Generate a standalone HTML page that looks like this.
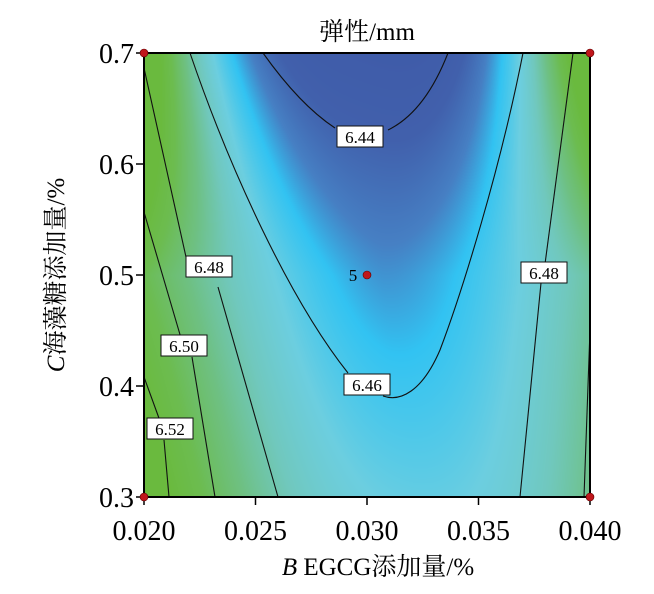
<!DOCTYPE html>
<html><head><meta charset="utf-8"><style>
body{margin:0;background:#fff;width:654px;height:594px;overflow:hidden;position:relative;font-family:"Liberation Serif","Noto Serif CJK SC",serif}
canvas{position:absolute;left:144px;top:53px}
svg{position:absolute;left:0;top:0}
</style></head><body>
<canvas id="c" width="446" height="444"></canvas>
<svg width="654" height="594" xmlns="http://www.w3.org/2000/svg" font-family="Liberation Serif, Noto Serif CJK SC, serif">
<g fill="none" stroke="#111" stroke-width="1.1">
<path d="M263,53 Q300,105 335,128"/>
<path d="M388,130 Q425,112 448,53"/>
<path d="M190,53 C230,170 290,300 348,373"/>
<path d="M383,396 C400,402 422,392 440,350 C462,292 500,170 523,53"/>
<path d="M144,68 L186,257"/>
<path d="M218,287 L278,497"/>
<path d="M144,212 L181,338"/>
<path d="M192,357 L215,497"/>
<path d="M144,377 L160,421"/>
<path d="M164,440 L169,497"/>
<path d="M573,53 L545,264"/>
<path d="M541,283 L520,497"/>
<path d="M584,497 L590,330"/>
</g>
<g font-size="17" text-anchor="middle">
<rect x="337" y="126" width="46" height="21" fill="#fff" stroke="#111"/><text x="360" y="143">6.44</text>
<rect x="344" y="374" width="46" height="21" fill="#fff" stroke="#111"/><text x="367" y="391">6.46</text>
<rect x="186" y="256" width="46" height="21" fill="#fff" stroke="#111"/><text x="209" y="273">6.48</text>
<rect x="521" y="262" width="46" height="21" fill="#fff" stroke="#111"/><text x="544" y="279">6.48</text>
<rect x="161" y="335" width="46" height="21" fill="#fff" stroke="#111"/><text x="184" y="352">6.50</text>
<rect x="147" y="418" width="46" height="21" fill="#fff" stroke="#111"/><text x="170" y="435">6.52</text>
</g>
<rect x="144" y="53" width="446" height="444" fill="none" stroke="#000" stroke-width="2"/>
<g stroke="#000" stroke-width="1.5">
<line x1="144" y1="497" x2="144" y2="505"/><line x1="255.5" y1="497" x2="255.5" y2="505"/><line x1="367" y1="497" x2="367" y2="505"/><line x1="478.5" y1="497" x2="478.5" y2="505"/><line x1="590" y1="497" x2="590" y2="505"/>
<line x1="136" y1="53" x2="144" y2="53"/><line x1="136" y1="164" x2="144" y2="164"/><line x1="136" y1="275" x2="144" y2="275"/><line x1="136" y1="386" x2="144" y2="386"/><line x1="136" y1="497" x2="144" y2="497"/>
</g>
<g fill="#c0161b" stroke="#5a0000" stroke-width="0.6">
<circle cx="144" cy="53" r="4"/><circle cx="590" cy="53" r="4"/><circle cx="144" cy="497" r="4"/><circle cx="590" cy="497" r="4"/><circle cx="367" cy="275" r="4"/>
</g>
<text x="353" y="281" font-size="17" text-anchor="middle">5</text>
<g font-size="28" text-anchor="middle">
<text x="144" y="540">0.020</text><text x="255.5" y="540">0.025</text><text x="367" y="540">0.030</text><text x="478.5" y="540">0.035</text><text x="590" y="540">0.040</text>
</g>
<g font-size="28" text-anchor="end">
<text x="134" y="63">0.7</text><text x="134" y="174">0.6</text><text x="134" y="285">0.5</text><text x="134" y="396">0.4</text><text x="134" y="507">0.3</text>
</g>
<text x="367" y="40" font-size="25" text-anchor="middle">弹性/mm</text>
<text x="378" y="575" font-size="25" text-anchor="middle"><tspan font-style="italic">B</tspan> EGCG添加量/%</text>
<text transform="translate(64,275) rotate(-90)" font-size="25" text-anchor="middle"><tspan font-style="italic">C</tspan>海藻糖添加量/%</text>
</svg>
<script>
var c=document.getElementById('c'),x=c.getContext('2d'),W=446,H=444,img=x.createImageData(W,H);
var stops=[[6.425,[61,86,165]],[6.44,[65,96,172]],[6.448,[70,128,196]],[6.456,[50,195,242]],[6.468,[108,206,224]],[6.48,[112,200,190]],[6.494,[110,192,130]],[6.51,[108,188,80]],[6.525,[106,186,62]]];
function col(z){if(z<=stops[0][0])return stops[0][1];for(var i=1;i<stops.length;i++){if(z<=stops[i][0]){var a=stops[i-1],b=stops[i],t=(z-a[0])/(b[0]-a[0]);return [0,1,2].map(k=>a[1][k]+(b[1][k]-a[1][k])*t);}}return stops[stops.length-1][1];}
for(var j=0;j<H;j++){var v=(222-j)/222;var p,A;if(v>=0){p=1.62+1.82*v;A=0.047+0.076*v;}else{p=1.62-0.58*v;A=0.047;}
var u0=0.07-0.1*v;
for(var i=0;i<W;i++){var u=(i-223)/223;var d=Math.abs(u-u0);var z=6.4508-0.0168*v+A*Math.pow(d,p)-0.006*u;var cc=col(z);var k=(j*W+i)*4;img.data[k]=cc[0];img.data[k+1]=cc[1];img.data[k+2]=cc[2];img.data[k+3]=255;}}
x.putImageData(img,0,0);
</script>
</body></html>
